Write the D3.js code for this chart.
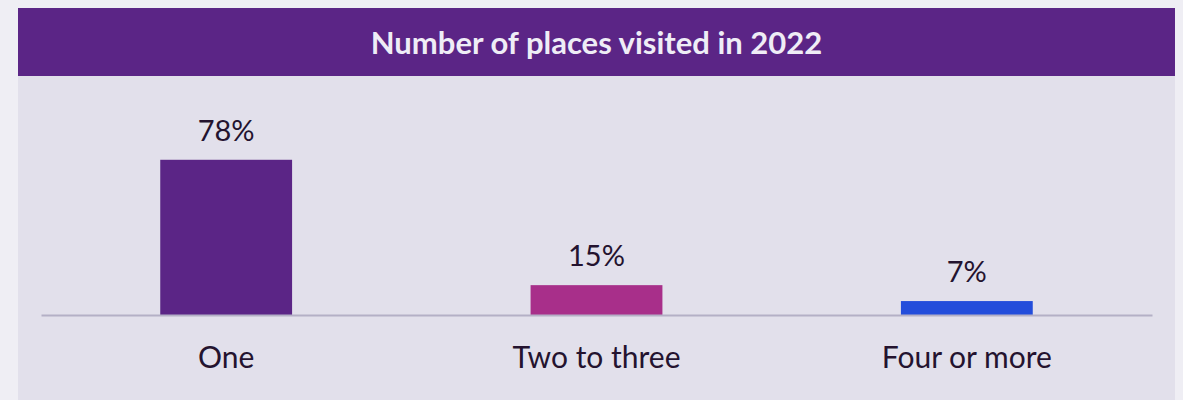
<!DOCTYPE html>
<html>
<head>
<meta charset="utf-8">
<script src="https://cdn.jsdelivr.net/npm/d3@7"></script>
<style>
  body { margin: 0; background: #efeef4; }
  svg { display: block; }
  text { font-family: Lato, "Noto Sans", sans-serif; }
</style>
</head>
<body>
<div id="chart"></div>
<script>
// data
const title = "Number of places visited in 2022";
const categories = ["One", "Two to three", "Four or more"];
const values = [78, 15, 7];
const colors = ["#5b2586", "#a82f8a", "#234ddb"];

const width = 1183, height = 400
    , panel = { left: 18, right: 1175, top: 8, header: 76 }
    , plot = { left: 41, right: 1152, baseline: 315 }
    // 78% is about 155px tall
    , y = d3.scaleLinear()
        .domain([0, 100])
        .range([plot.baseline, plot.baseline - 199])
    , x = d3.scaleBand()
        .domain(categories)
        .range([plot.left, plot.right])
        .paddingInner(0.644)
        .paddingOuter(0.322)
    , svg = d3.select("#chart")
        .append("svg")
        .attr("width", width)
        .attr("height", height);

// panel
svg.append("rect")
    .attr("x", panel.left)
    .attr("y", panel.top)
    .attr("width", panel.right - panel.left)
    .attr("height", height - panel.top)
    .attr("fill", "#e2e0eb");
svg.append("rect")
    .attr("x", panel.left)
    .attr("y", panel.top)
    .attr("width", panel.right - panel.left)
    .attr("height", panel.header - panel.top)
    .attr("fill", "#5b2586");
svg.append("text")
    .attr("x", (panel.left + panel.right) / 2)
    .attr("y", 54)
    .attr("text-anchor", "middle")
    .attr("fill", "#efedf6")
    .attr("font-size", 31)
    .attr("font-weight", "bold")
    .text(title);

// bars
svg.selectAll("rect.bar")
    .data(values)
    .enter()
    .append("rect")
    .attr("class", "bar")
    .attr("x", (d, i) => x(categories[i]))
    .attr("y", d => y(d))
    .attr("width", x.bandwidth())
    .attr("height", d => plot.baseline - y(d))
    .attr("fill", (d, i) => colors[i]);

// value labels
svg.selectAll("text.value")
    .data(values)
    .enter()
    .append("text")
    .attr("class", "value")
    .attr("x", (d, i) => x(categories[i]) + x.bandwidth() / 2)
    .attr("y", d => y(d) - 19)
    .attr("text-anchor", "middle")
    .attr("fill", "#24132f")
    .attr("font-size", 29)
    .text(d => d + "%");

// x axis
const xAxis = d3.axisBottom(x).tickSize(0).tickPadding(0);
const gx = svg.append("g")
    .attr("transform", "translate(0," + plot.baseline + ")")
    .call(xAxis);
gx.select(".domain")
    .attr("stroke", "#b4b0c6")
    .attr("stroke-width", 2);
gx.selectAll("text")
    .attr("dy", null)
    .attr("y", 53)
    .attr("fill", "#24132f")
    .attr("font-size", 30)
    .attr("font-family", "Lato, 'Noto Sans', sans-serif");
</script>
</body>
</html>
